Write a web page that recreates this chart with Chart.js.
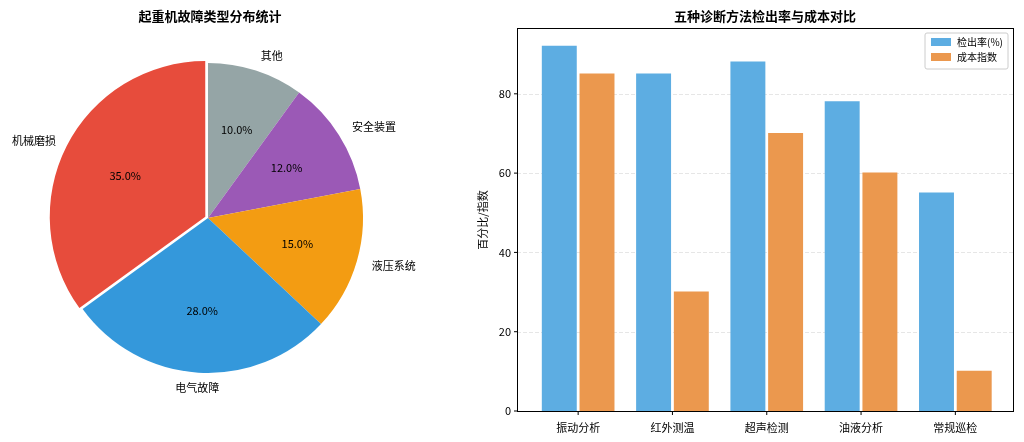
<!DOCTYPE html>
<html><head><meta charset="utf-8">
<script src="https://cdn.jsdelivr.net/npm/chart.js@4"></script>
<style>body{margin:0;background:#fff;width:1024px;height:442px;overflow:hidden;font-family:"Noto Sans CJK SC"}
#a{position:absolute;left:0;top:0;width:420px;height:442px}#b{position:absolute;left:420px;top:0;width:604px;height:442px}</style>
</head><body>
<div id="a"><canvas id="pie"></canvas></div><div id="b"><canvas id="bar"></canvas></div>
<script>
const F='"Noto Sans CJK SC","Noto Sans",sans-serif';
const pieLabels=['其他','安全装置','液压系统','电气故障','机械磨损'];
const pieValues=[10,12,15,28,35];
const pieColors=['#95a5a6','#9b59b6','#f39c12','#3498db','#e74c3c'];
const methods=['振动分析','红外测温','超声检测','油液分析','常规巡检'];
const detectRate=[92,85,88,78,55];
const costIndex=[85,30,70,60,10];
const yTicks=[0,20,40,60,80];

const pieText={id:'pt',afterDraw(c){const x=c.ctx,m=c.getDatasetMeta(0);x.save();
x.font='bold 13px '+F;x.fillStyle='#000';x.textAlign='center';x.textBaseline='middle';x.fillText('起重机故障类型分布统计',210,16);
x.font='11px '+F;const tot=pieValues.reduce((a,b)=>a+b,0);
m.data.forEach((arc,i)=>{const p=arc.getProps(['x','y','startAngle','endAngle','outerRadius'],true);const a=(p.startAngle+p.endAngle)/2;const r=p.outerRadius;
x.fillText((pieValues[i]/tot*100).toFixed(1)+'%',p.x+Math.cos(a)*r*0.6,p.y+Math.sin(a)*r*0.6);
const lx=p.x+Math.cos(a)*r*1.1,ly=p.y+Math.sin(a)*r*1.1;x.textAlign=Math.cos(a)>0.1?'left':(Math.cos(a)<-0.1?'right':'center');
x.fillText(pieLabels[i],lx,ly);x.textAlign='center';});x.restore();}};
new Chart(document.getElementById('pie'),{type:'pie',data:{labels:pieLabels,datasets:[{data:pieValues,backgroundColor:pieColors,borderColor:'#fff',borderWidth:0,offset:[0,0,0,0,12]}]},
options:{animation:false,responsive:true,maintainAspectRatio:false,layout:{padding:{top:57,bottom:63,left:0,right:4}},plugins:{legend:{display:false},tooltip:{enabled:false}}},plugins:[pieText]});

const barExtra={id:'be',beforeDatasetsDraw(c){const x=c.ctx,y=c.scales.y;x.save();x.strokeStyle='#e6e6e6';x.lineWidth=1;x.setLineDash([4,2]);
yTicks.forEach(v=>{const py=Math.round(y.getPixelForValue(v))+0.5;x.beginPath();x.moveTo(97,py);x.lineTo(593,py);x.stroke();});x.restore();},
afterDraw(c){const x=c.ctx,y=c.scales.y;x.save();x.strokeStyle='#000';x.lineWidth=1;x.strokeRect(97.5,28.5,496,383);
x.textBaseline='middle';x.font='11px '+F;x.fillStyle='#000';x.textAlign='right';
yTicks.forEach(v=>{const py=y.getPixelForValue(v);x.beginPath();x.moveTo(94,py);x.lineTo(97,py);x.stroke();x.fillText(v,91,py);});
c.scales.x.ticks.forEach((t,i)=>{const px=c.scales.x.getPixelForTick(i);x.beginPath();x.moveTo(px,411);x.lineTo(px,415);x.stroke();});
x.font='bold 13px '+F;x.textAlign='center';x.fillText('五种诊断方法检出率与成本对比',345,16);
x.font='11px '+F;x.translate(63,220);x.rotate(-Math.PI/2);x.fillText('百分比/指数',0,0);x.restore();
x.save();x.fillStyle='rgba(255,255,255,0.85)';x.strokeStyle='#ccc';x.beginPath();x.roundRect(505,33,83,36,2);x.fill();x.stroke();
const lab=['检出率(%)','成本指数'],col=['#5dade2','#eb984e'];x.font='10px '+F;x.textBaseline='middle';x.textAlign='left';
lab.forEach((l,i)=>{x.fillStyle=col[i];x.fillRect(511,38+i*15,20,8);x.fillStyle='#000';x.fillText(l,537,42+i*15);});x.restore();}};
new Chart(document.getElementById('bar'),{type:'bar',data:{labels:methods,datasets:[
{label:'检出率(%)',data:detectRate,backgroundColor:'#5dade2',borderWidth:0,inflateAmount:0.5},{label:'成本指数',data:costIndex,backgroundColor:'#eb984e',borderWidth:0,inflateAmount:0.5}]},
options:{animation:false,responsive:true,maintainAspectRatio:false,layout:{padding:{top:28,right:21.5,left:0,bottom:0}},
plugins:{legend:{display:false},tooltip:{enabled:false}},
scales:{x:{categoryPercentage:0.8,barPercentage:1,grid:{display:false},border:{display:false},ticks:{color:'#000',font:{size:11,family:F},padding:2},afterFit:s=>{s.height=31;}},
y:{min:0,max:96.6,grid:{display:false},border:{display:false},ticks:{display:false,stepSize:20},afterFit:s=>{s.width=111;}}}},plugins:[barExtra]});
</script></body></html>
